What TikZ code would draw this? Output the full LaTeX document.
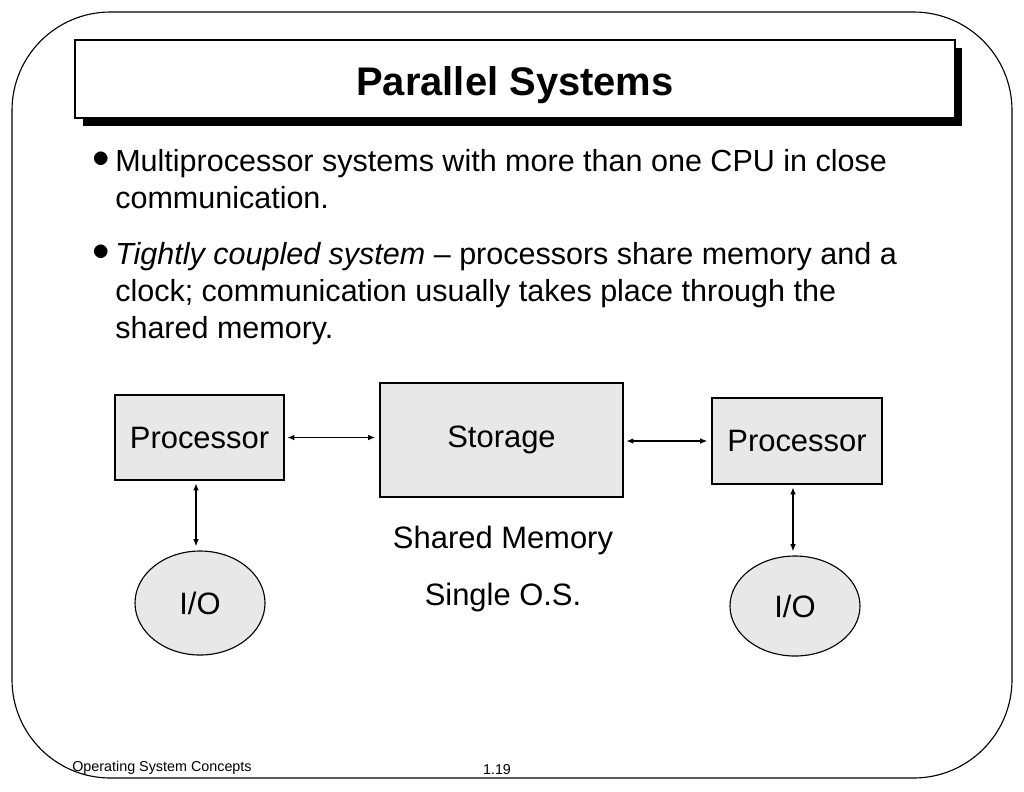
\documentclass[tikz,border=0pt]{standalone}
\usepackage{fontspec}
\setmainfont{Liberation Sans}
\usetikzlibrary{arrows.meta,shapes.geometric}
\begin{document}
\begin{tikzpicture}[x=0.025cm,y=-0.025cm,
    every node/.style={align=center},
    label text/.style={font=\fontsize{22}{26}\selectfont},
    body text/.style={anchor=north west, align=left, font=\fontsize{21.7}{26.3}\selectfont, inner sep=0pt},
    bullet/.style={font=\fontsize{26}{26}\selectfont, inner sep=0pt},
    box/.style={draw, thick, fill=gray!18, inner sep=0pt, label text},
    io/.style={draw, thick, ellipse, fill=gray!18, inner sep=0pt, label text},
    link/.style={draw, thick, {Latex[length=5pt,width=4pt]}-{Latex[length=5pt,width=4pt]}, shorten <=2pt, shorten >=3pt},
    ]
\useasboundingbox (0,0) rectangle (1024,791);
\draw[thick, rounded corners=70] (12,12) rectangle (1012,778);
% title
\fill (83,48) rectangle (962,126);
\node[draw, thick, fill=white, minimum width=880*0.025cm, minimum height=78*0.025cm] (title) at (515,79) {};
\node[font=\bfseries\fontsize{28.4}{32}\selectfont] (titletext) at (515,85) {Parallel Systems};
% bullets
\node[bullet] (dot1) at (101,160) {$\bullet$};
\node[body text] (item1) at (115,149) {Multiprocessor systems with more than one CPU in close\\communication.};
\node[bullet] (dot2) at (101,253) {$\bullet$};
\node[body text] (item2) at (115,242) {\textit{Tightly coupled system} -- processors share memory and a\\clock; communication usually takes place through the\\shared memory.};
% diagram
\node[box, minimum width=169*0.025cm, minimum height=85*0.025cm] (procL) at (199.5,437.5) {Processor};
\node[box, minimum width=243*0.025cm, minimum height=114*0.025cm] (storage) at (501.5,440) {Storage};
\node[box, minimum width=170*0.025cm, minimum height=86*0.025cm] (procR) at (797,441) {Processor};
\node[io, minimum width=130*0.025cm, minimum height=104*0.025cm] (ioL) at (200,603) {I/O};
\node[io, minimum width=130*0.025cm, minimum height=100*0.025cm] (ioR) at (795,606) {I/O};
\node[label text] (shared) at (503,540) {Shared Memory};
\node[label text] (single) at (503,597) {Single O.S.};
\draw[link] (procL) -- (procL -| storage.west);
\draw[link] (storage.east |- procR) -- (procR);
\draw[link] (procL.south -| 196,0) -- (ioL.north -| 196,0);
\draw[link] (procR.south -| 793,0) -- (ioR.north -| 793,0);
% footer
\node[anchor=west, inner sep=0pt, font=\fontsize{10.2}{12}\selectfont] (footL) at (72,768) {Operating System Concepts};
\node[font=\fontsize{10.2}{12}\selectfont] (footR) at (497,770) {1.19};
\end{tikzpicture}
\end{document}
